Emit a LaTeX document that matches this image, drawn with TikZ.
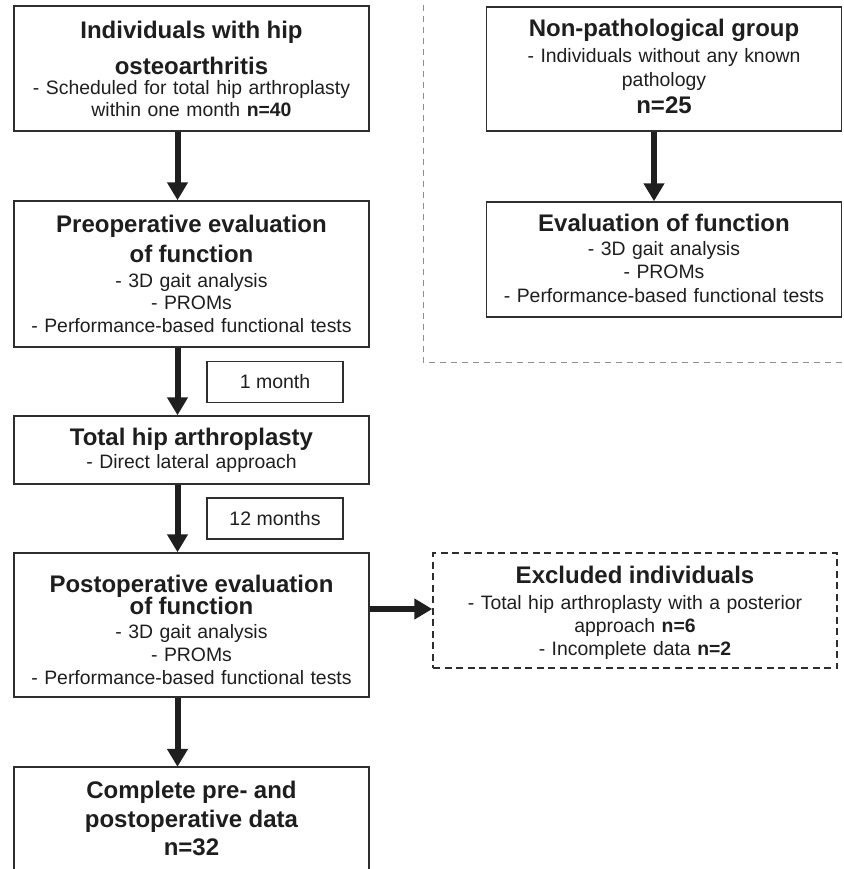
\documentclass[tikz,border=0pt]{standalone}
\usepackage{fontspec}
\setmainfont{Liberation Sans}
\usetikzlibrary{arrows.meta}
\definecolor{linec}{HTML}{2E2E2E}
\definecolor{txtc}{HTML}{1E1E1E}
\definecolor{divc}{HTML}{8E8E8E}
\newcommand\bodyf{\fontsize{19.4}{0}\selectfont\lineskiplimit=-1000pt\lineskip=0pt}
\newcommand\ttl{\fontsize{24}{0}\selectfont\bfseries}
\newcommand\nb{\fontsize{19.4}{0}\selectfont\bfseries}
\newcommand\fl{\rule{0pt}{20pt}}
\begin{document}
\begin{tikzpicture}[x=1pt,y=-1pt,
  boxline/.style={draw=linec,line width=1.5pt},
  frame/.style={boxline,minimum width=355pt,inner sep=0pt},
  xframe/.style={draw=linec,line width=1.5pt,dash pattern=on 7pt off 4.5pt,minimum width=404pt,minimum height=115pt,inner sep=0pt},
  txtlbl/.style={anchor=north,align=center,text width=400pt,text=txtc,font=\bodyf,inner sep=0pt},
  smallbox/.style={boxline,minimum width=136pt,minimum height=41pt,inner sep=0pt,text=txtc,font=\fontsize{19.5}{23}\selectfont},
  arr/.style={draw=black!88,line width=6pt,-{Triangle[width=20pt,length=18pt]}},
  divider/.style={draw=divc,line width=1pt,dash pattern=on 6pt off 5pt}]
\useasboundingbox (0,0) rectangle (843,869);

% left column frames
\node[frame,minimum height=125pt] (A) at (191.5,68.5) {};
\node[frame,minimum height=146pt] (B) at (191.5,274) {};
\node[frame,minimum height=68pt] (C) at (191.5,450) {};
\node[frame,minimum height=144pt] (D) at (191.5,625) {};
\node[minimum width=355pt,minimum height=102pt,inner sep=0pt] (E) at (191.5,818) {};
\draw[boxline] (E.south west) |- (E.north east) -- (E.south east);

% right column frames
\node[frame,minimum height=124pt] (F) at (664,69) {};
\node[frame,minimum height=115pt] (G) at (664,259.5) {};
\node[xframe] (H) at (635,610.5) {};

% small interval boxes
\node[smallbox] (M1) at (275,382) {1 month};
\node[smallbox] (M2) at (275,518.5) {12 months};

% texts (node placed so that first baseline sits 20pt below its top)
\node[txtlbl] (At) at (191.5,18) {{\ttl\fl Individuals with hip}\\[36pt]{\ttl osteoarthritis}\\[20pt]- Scheduled for total hip arthroplasty\\[22pt]within one month {\nb n=40}};
\node[txtlbl] (Bt) at (191.5,212) {{\ttl\fl Preoperative evaluation}\\[30pt]{\ttl of function}\\[25pt]- 3D gait analysis\\[22pt]- PROMs\\[23pt]- Performance-based functional tests};
\node[txtlbl] (Ct) at (191.5,425) {{\ttl\fl Total hip arthroplasty}\\[23pt]- Direct lateral approach};
\node[txtlbl] (Dt) at (191.5,572) {{\ttl\fl Postoperative evaluation}\\[22pt]{\ttl of function}\\[24pt]- 3D gait analysis\\[23pt]- PROMs\\[23pt]- Performance-based functional tests};
\node[txtlbl] (Et) at (191.5,778) {{\ttl\fl Complete pre- and}\\[29pt]{\ttl postoperative data}\\[28pt]{\ttl n=32}};
\node[txtlbl] (Ft) at (664,16) {{\ttl\fl Non-pathological group}\\[26pt]- Individuals without any known\\[24pt]pathology\\[27pt]{\ttl n=25}};
\node[txtlbl] (Gt) at (664,211) {{\ttl\fl Evaluation of function}\\[24pt]- 3D gait analysis\\[23pt]- PROMs\\[24pt]- Performance-based functional tests};
\node[txtlbl] (Ht) at (635,563) {{\ttl\fl Excluded individuals}\\[26pt]- Total hip arthroplasty with a posterior\\[23pt]approach {\nb n=6}\\[23pt]- Incomplete data {\nb n=2}};

% divider
\coordinate (d1) at (423,5);
\coordinate (d2) at (423,362);
\coordinate (d3) at (843,362);
\draw[divider] (d1) -- (d2) -- (d3);

% arrows
\coordinate (ax) at (177.5,0);
\coordinate (bx) at (654,0);
\coordinate (ey) at (0,609);
\draw[arr] (A.south -| ax) -- (B.north -| ax);
\draw[arr] (B.south -| ax) -- (C.north -| ax);
\draw[arr] (C.south -| ax) -- (D.north -| ax);
\draw[arr] (D.south -| ax) -- (E.north -| ax);
\draw[arr] (F.south -| bx) -- (G.north -| bx);
\draw[arr] (D.east |- ey) -- (H.west |- ey);
\end{tikzpicture}
\end{document}
